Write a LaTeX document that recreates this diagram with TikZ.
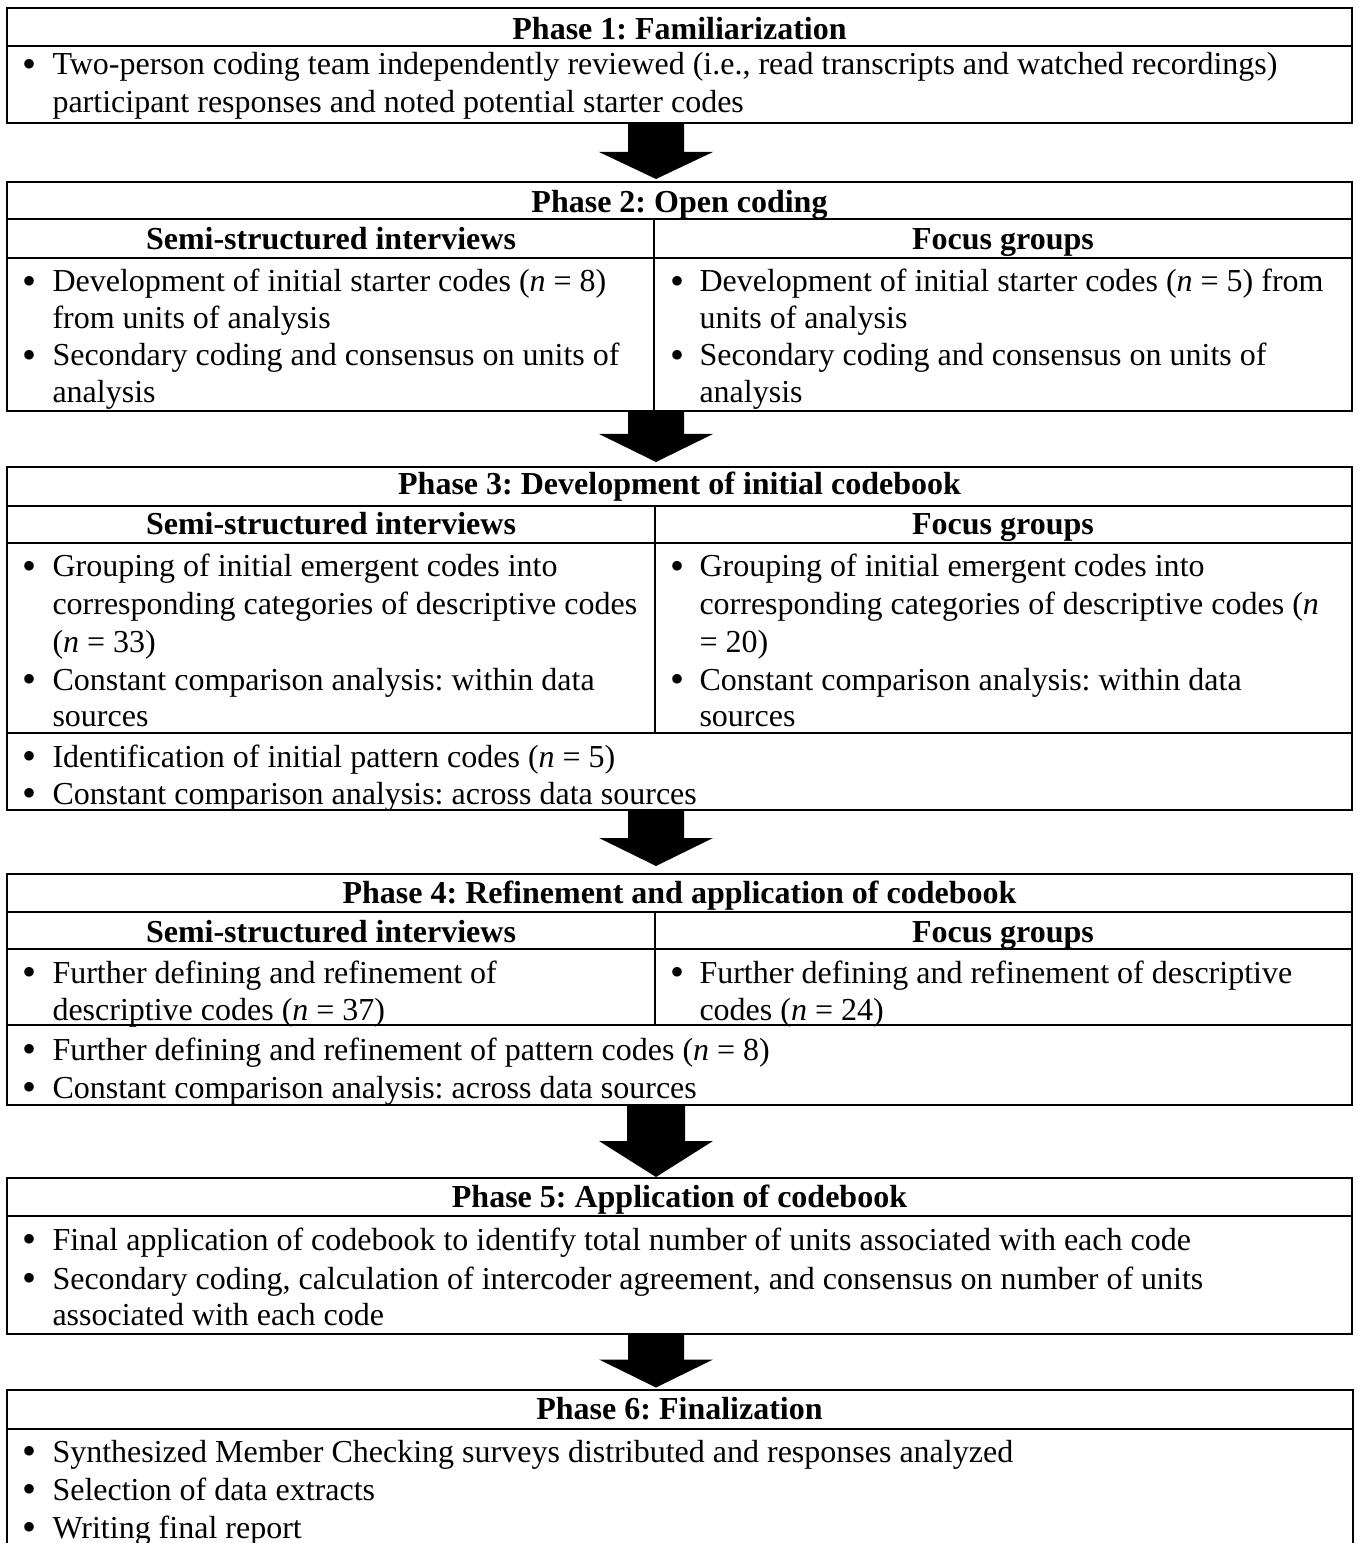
\documentclass[tikz,border=0pt]{standalone}
\usepackage{fontspec}
\setmainfont{Liberation Serif}
\usetikzlibrary{fit,calc}
\frenchspacing
\tikzset{
  frame/.style={draw=black, line width=0.8pt, inner sep=0pt},
  hidden/.style={inner sep=0pt},
  rulel/.style={line width=0.8pt},
  txt/.style={anchor=base west, inner sep=0pt, yshift=-0.8pt, font=\fontsize{12.8}{15}\selectfont},
  hdr/.style={anchor=base, inner sep=0pt, yshift=-0.8pt, font=\fontsize{12.8}{15}\selectfont\bfseries},
  bulletmark/.style={anchor=base, inner sep=0pt, yshift=-1.8pt, font=\fontsize{16}{18}\selectfont},
  blockarrow/.style={fill=black, draw=none}
}
\newcommand\bitem[4]{\node[bulletmark] (#1b) at (#2-22,#3) {\textbullet}; \node[txt] (#1) at (#2,#3) {#4};}
\newcommand\citem[4]{\node[txt] (#1) at (#2,#3) {#4};}
% from box, to box, shaft half width, head half width, head height, gap to next box
\newcommand\barrow[6]{%
  \fill[blockarrow] ($(ax |- #1.south)+(-#3,0)$) -- ($(ax |- #1.south)+(#3,0)$)
    -- ($(ax |- #2.north)+(#3,-#5-#6)$) -- ($(ax |- #2.north)+(#4,-#5-#6)$)
    -- ($(ax |- #2.north)+(0,-#6)$) -- ($(ax |- #2.north)+(-#4,-#5-#6)$)
    -- ($(ax |- #2.north)+(-#3,-#5-#6)$) -- cycle;}
\begin{document}
\begin{tikzpicture}[x=0.4pt,y=-0.4pt]
\useasboundingbox (0,0) rectangle (1357,1543);
\coordinate (ax) at (656,0);

% ---------- Phase 1 ----------
\node[frame, fit={(7,8) (1352,123)}] (p1) {};
\draw[rulel] (7,46) -- (1352,46);
\node[hdr] (h1) at (679.5,38) {Phase 1: Familiarization};
\bitem{a1}{52}{73}{Two-person coding team independently reviewed (i.e., read transcripts and watched recordings)}
\citem{a2}{52}{111}{participant responses and noted potential starter codes}

% ---------- Phase 2 ----------
\node[frame, fit={(7,182) (1352,411)}] (p2) {};
\draw[rulel] (7,219) -- (1352,219);
\draw[rulel] (7,258) -- (1352,258);
\draw[rulel] (654,219) -- (654,411);
\node[hdr] (h2) at (679.5,211) {Phase 2: Open coding};
\node[hdr] (s2l) at (331,248) {Semi-structured interviews};
\node[hdr] (s2r) at (1003,248) {Focus groups};
\bitem{b1}{52}{290}{Development of initial starter codes (\textit{n} = 8)}
\citem{b2}{52}{327}{from units of analysis}
\bitem{b3}{52}{364}{Secondary coding and consensus on units of}
\citem{b4}{52}{401}{analysis}
\bitem{c1}{699}{290}{Development of initial starter codes (\textit{n} = 5) from}
\citem{c2}{699}{327}{units of analysis}
\bitem{c3}{699}{364}{Secondary coding and consensus on units of}
\citem{c4}{699}{401}{analysis}

% ---------- Phase 3 ----------
\node[frame, fit={(7,467) (1352,810)}] (p3) {};
\draw[rulel] (7,506) -- (1352,506);
\draw[rulel] (7,543) -- (1352,543);
\draw[rulel] (7,733) -- (1352,733);
\draw[rulel] (655,506) -- (655,733);
\node[hdr] (h3) at (679.5,493) {Phase 3: Development of initial codebook};
\node[hdr] (s3l) at (331,533) {Semi-structured interviews};
\node[hdr] (s3r) at (1003,533) {Focus groups};
\bitem{d1}{52}{575}{Grouping of initial emergent codes into}
\citem{d2}{52}{613}{corresponding categories of descriptive codes}
\citem{d3}{52}{650}{(\textit{n} = 33)}
\bitem{d4}{52}{688}{Constant comparison analysis: within data}
\citem{d5}{52}{724}{sources}
\bitem{e1}{699}{575}{Grouping of initial emergent codes into}
\citem{e2}{699}{613}{corresponding categories of descriptive codes (\textit{n}}
\citem{e3}{699}{650}{= 20)}
\bitem{e4}{699}{688}{Constant comparison analysis: within data}
\citem{e5}{699}{724}{sources}
\bitem{f1}{52}{765}{Identification of initial pattern codes (\textit{n} = 5)}
\bitem{f2}{52}{802}{Constant comparison analysis: across data sources}

% ---------- Phase 4 ----------
\node[frame, fit={(7,874) (1352,1105)}] (p4) {};
\draw[rulel] (7,912) -- (1352,912);
\draw[rulel] (7,949) -- (1352,949);
\draw[rulel] (7,1025) -- (1352,1025);
\draw[rulel] (655,912) -- (655,1025);
\node[hdr] (h4) at (679.5,901) {Phase 4: Refinement and application of codebook};
\node[hdr] (s4l) at (331,940) {Semi-structured interviews};
\node[hdr] (s4r) at (1003,940) {Focus groups};
\bitem{g1}{52}{981}{Further defining and refinement of}
\citem{g2}{52}{1018}{descriptive codes (\textit{n} = 37)}
\bitem{k1}{699}{981}{Further defining and refinement of descriptive}
\citem{k2}{699}{1018}{codes (\textit{n} = 24)}
\bitem{m1}{52}{1058}{Further defining and refinement of pattern codes (\textit{n} = 8)}
\bitem{m2}{52}{1096}{Constant comparison analysis: across data sources}

% ---------- Phase 5 ----------
\node[frame, fit={(7,1178) (1352,1334)}] (p5) {};
\draw[rulel] (7,1216) -- (1352,1216);
\node[hdr] (h5) at (679.5,1205) {Phase 5: Application of codebook};
\bitem{q1}{52}{1248}{Final application of codebook to identify total number of units associated with each code}
\bitem{q2}{52}{1287}{Secondary coding, calculation of intercoder agreement, and consensus on number of units}
\citem{q3}{52}{1323}{associated with each code}

% ---------- Phase 6 ----------
\node[hidden, fit={(7,1390) (1352,1560)}] (p6) {};
\draw[rulel] (p6.south west) -- (p6.north west) -- (p6.north east) -- (p6.south east);
\draw[rulel] (7,1429) -- (1352,1429);
\node[hdr] (h6) at (679.5,1417) {Phase 6: Finalization};
\bitem{r1}{52}{1460}{Synthesized Member Checking surveys distributed and responses analyzed}
\bitem{r2}{52}{1498}{Selection of data extracts}
\bitem{r3}{52}{1536}{Writing final report}

% ---------- Arrows ----------
\barrow{p1}{p2}{28}{57}{27}{2}
\barrow{p2}{p3}{28}{57}{28}{4}
\barrow{p3}{p4}{28}{57}{28}{7}
\barrow{p4}{p5}{29}{57}{36}{0}
\barrow{p5}{p6}{28}{57}{28}{2}
\end{tikzpicture}
\end{document}
